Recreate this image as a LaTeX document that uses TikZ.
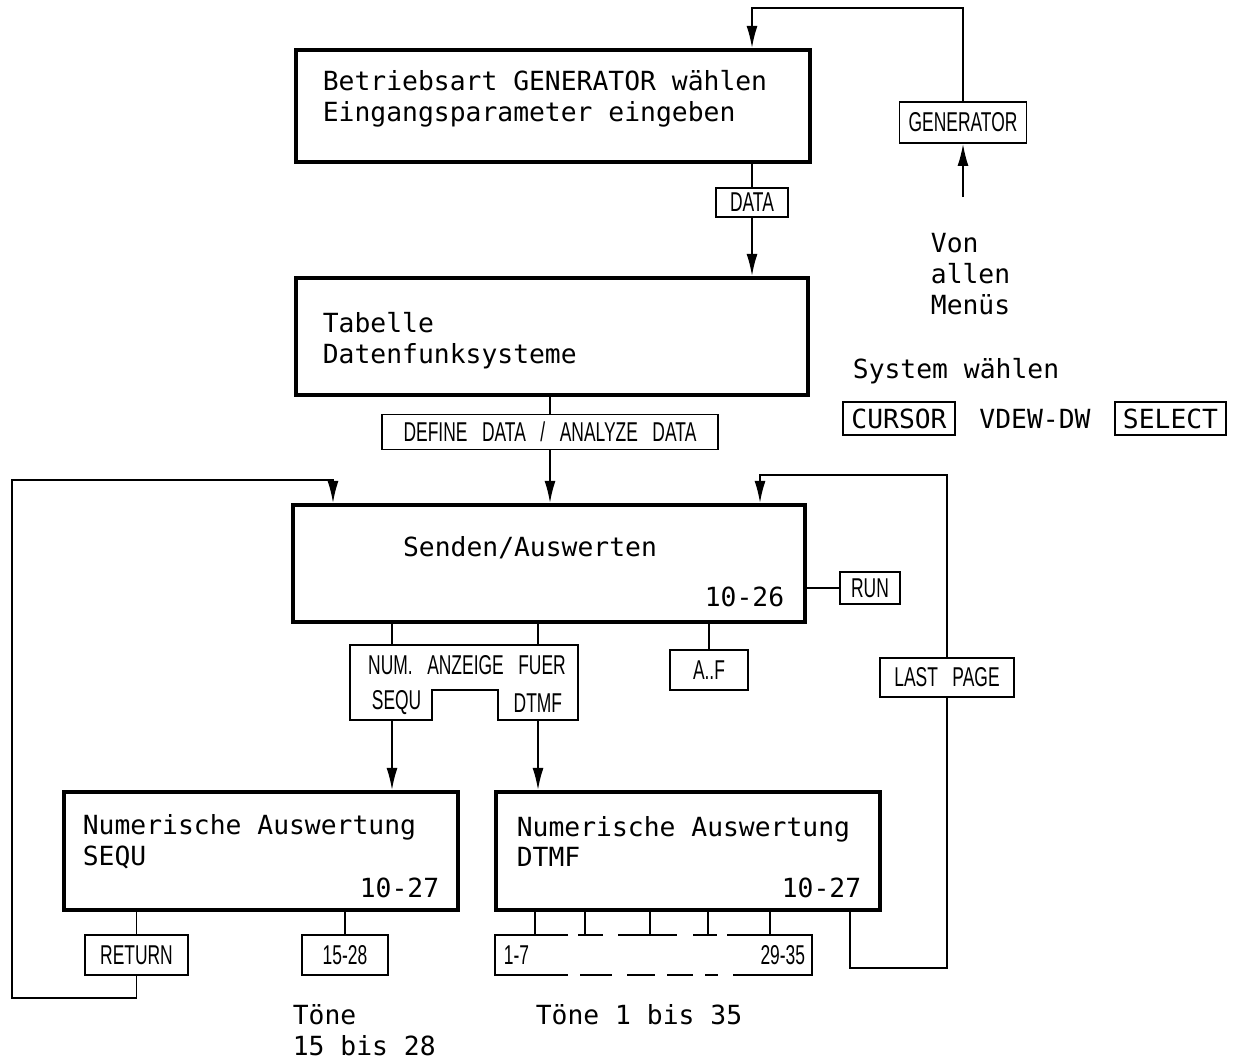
\documentclass[tikz,border=0pt]{standalone}
\usepackage{fontspec}
\usetikzlibrary{arrows.meta}
\newfontfamily\monofont{DejaVu Sans Mono}
\newfontfamily\keyfont[FakeStretch=0.64,WordSpace=3]{Liberation Sans}
\tikzset{
  menu/.style={draw, line width=2.4pt, inner sep=0pt},
  keybox/.style={draw, line width=1pt, inner sep=0pt, font=\keyfont\fontsize{15.5}{17}\selectfont},
  mtext/.style={inner sep=0pt, align=left, font=\monofont\fontsize{15}{17.6}\selectfont},
  arr/.style={-{Latex[length=4.4mm,width=2.2mm]}},
}
\begin{document}
\begin{tikzpicture}[x=0.02cm, y=-0.02cm, line width=1pt]
    \useasboundingbox (0,0) rectangle (1241,1063);
    \node [menu, minimum width=10.28cm, minimum height=2.24cm] (gen) at (553,106) {};
    \node [menu, minimum width=10.24cm, minimum height=2.34cm] (tab) at (552,336.5) {};
    \node [menu, minimum width=10.24cm, minimum height=2.34cm] (send) at (549,563.5) {};
    \node [menu, minimum width=7.88cm, minimum height=2.36cm] (sequ) at (261,851) {};
    \node [menu, minimum width=7.68cm, minimum height=2.36cm] (dtmf) at (688,851) {};
    \node [mtext, anchor=west] (gentxt) at (322,98.5) {Betriebsart GENERATOR wählen\\Eingangsparameter eingeben};
    \node [mtext, anchor=west] (tabtxt) at (322,340.5) {Tabelle\\Datenfunksysteme};
    \node [mtext] (sendtxt) at (530,548) {Senden/Auswerten};
    \node [mtext, anchor=east] (sendnr) at (785,597) {10-26};
    \node [mtext, anchor=west] (sequtxt) at (82,841.5) {Numerische Auswertung\\SEQU};
    \node [mtext, anchor=east] (sequnr) at (440,888) {10-27};
    \node [mtext, anchor=west] (dtmftxt) at (516,841.5) {Numerische Auswertung\\DTMF};
    \node [mtext, anchor=east] (dtmfnr) at (862,888) {10-27};
    \node [keybox, minimum width=2.54cm, minimum height=0.82cm] (genkey) at (963,122.5) {GENERATOR};
    \node [keybox, minimum width=1.44cm, minimum height=0.58cm] (data) at (752,202.5) {DATA};
    \node [keybox, minimum width=6.72cm, minimum height=0.7cm] (define) at (550,432) {DEFINE DATA / ANALYZE DATA};
    \node [keybox, minimum width=1.2cm, minimum height=0.64cm] (run) at (870,588) {RUN};
    \node [keybox, minimum width=1.56cm, minimum height=0.8cm] (af) at (709,670) {A..F};
    \node [keybox, minimum width=2.68cm, minimum height=0.78cm] (last) at (947,677.5) {LAST PAGE};
    \node [keybox, minimum width=2.06cm, minimum height=0.8cm] (ret) at (136.5,955) {RETURN};
    \node [keybox, minimum width=1.72cm, minimum height=0.8cm] (tone) at (345,955) {15-28};
    \node [mtext, anchor=west] (von) at (930,274) {Von\\allen\\Menüs};
    \node [mtext, anchor=west] (system) at (852,371) {System wählen};
    \node [mtext, draw, line width=1pt, minimum width=2.24cm, minimum height=0.66cm] (cursor) at (899,418.5) {CURSOR};
    \node [mtext] (vdew) at (1035,418.5) {VDEW-DW};
    \node [mtext, draw, line width=1pt, minimum width=2.22cm, minimum height=0.66cm] (select) at (1170.5,418.5) {SELECT};
    \node [mtext, anchor=west] (toene) at (292,1030) {Töne\\15 bis 28};
    \node [mtext, anchor=west] (toenealle) at (535,1015) {Töne 1 bis 35};
    \coordinate (toploop) at (752,8);
    \coordinate (vonstart) at (963,197);
    \draw [arr] (genkey.north) |- (toploop) -- (toploop |- gen.north);
    \draw [arr] (vonstart) -- (genkey.south);
    \draw (data.north) -- (data.north |- gen.south);
    \draw [arr] (data.south) -- (data.south |- tab.north);
    \draw (define.north) -- (define.north |- tab.south);
    \draw [arr] (define.south) -- (define.south |- send.north);
    \draw (run.west) -- (run.west -| send.east);
    \draw (af.north) -- (af.north |- send.south);
    % Anzeige-Auswahl
    \draw [line width=1pt] (350,645) -- (578,645) -- (578,720) -- (498,720) -- (498,690)
        -- (432,690) -- (432,720) -- (350,720) -- cycle;
    \node [keybox, draw=none] (num) at (467,665) {NUM. ANZEIGE FUER};
    \node [keybox, draw=none, anchor=west] (numseq) at (371,703) {SEQU};
    \node [keybox, draw=none, anchor=east] (numdtmf) at (563,703) {DTMF};
    \coordinate (nseqt) at (392,645);
    \coordinate (nseqb) at (392,720);
    \coordinate (ndtmft) at (538,645);
    \coordinate (ndtmfb) at (538,720);
    \draw (nseqt) -- (nseqt |- send.south);
    \draw (ndtmft) -- (ndtmft |- send.south);
    \draw [arr] (nseqb) -- (nseqb |- sequ.north);
    \draw [arr] (ndtmfb) -- (ndtmfb |- dtmf.north);
    % Schleifen
    \coordinate (leftloop) at (12,998);
    \coordinate (lefttop) at (333,480);
    \draw [arr] (ret.south) |- (leftloop) |- (lefttop) -- (lefttop |- send.north);
    \coordinate (dtmfout) at (850,910);
    \coordinate (rightbot) at (947,968);
    \coordinate (righttop) at (760,475);
    \draw (dtmfout) |- (rightbot) -- (last.south);
    \draw [arr] (last.north) |- (righttop) -- (righttop |- send.north);
    \draw (ret.north) -- (ret.north |- sequ.south);
    \draw (tone.north) -- (tone.north |- sequ.south);
    % Toene 1 bis 35
    \coordinate (tl) at (495,935);
    \coordinate (br) at (812,975);
    \draw (568,935) -- (tl) -- (tl |- br) -- (568,975);
    \draw (727,935) -- (br |- tl) -- (br) -- (733,975);
    \foreach \xa/\xb in {578/603,618/677,693/717}
        \draw (\xa,935) -- (\xb,935);
    \foreach \xa/\xb in {580/612,627/655,667/693,705/718}
        \draw (\xa,975) -- (\xb,975);
    \foreach \tx in {535,585,650,708,770}
        \draw (\tx,935) -- (\tx,910);
    \node [keybox, draw=none, anchor=west] (t17) at (503,955) {1-7};
    \node [keybox, draw=none, anchor=east] (t2935) at (806,955) {29-35};
\end{tikzpicture}
\end{document}
